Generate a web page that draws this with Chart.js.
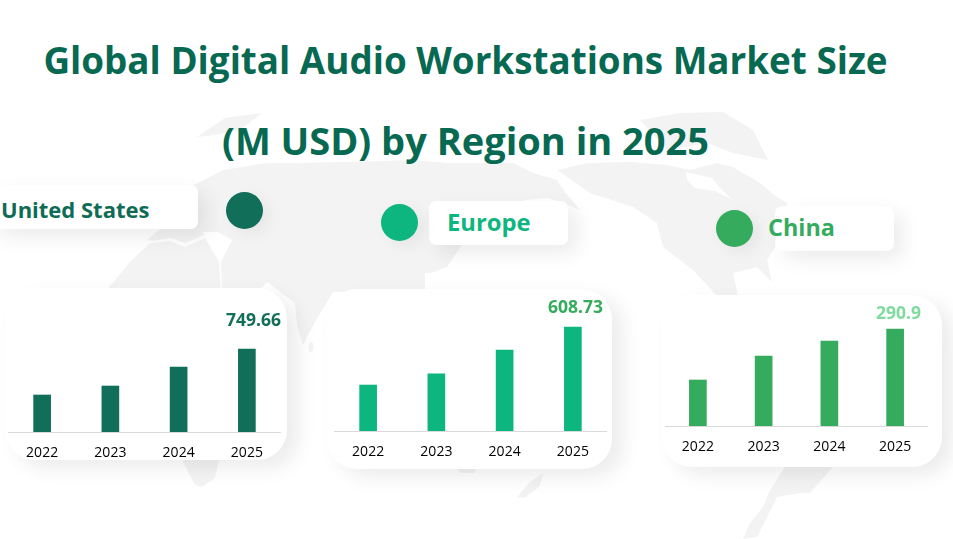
<!DOCTYPE html>
<html>
<head>
<meta charset="utf-8">
<title>Global Digital Audio Workstations Market Size</title>
<script src="https://cdn.jsdelivr.net/npm/chart.js@4/dist/chart.umd.min.js"></script>
<style>
  html, body { margin: 0; padding: 0; background: #fff; }
  body { width: 953px; height: 539px; position: relative; overflow: hidden; font-family: "Open Sans", sans-serif; }
  #map { position: absolute; left: 0; top: 0; }
  .title { position: absolute; left: 0; width: 931px; text-align: center; font-weight: 700; color: #076951; white-space: nowrap; line-height: 44px; }
  .tag { position: absolute; background: #fff; border-radius: 7px; box-shadow: 9px 8px 20px rgba(0, 0, 0, 0.08); }
  .tag-text { position: absolute; font-weight: 700; line-height: 30px; white-space: nowrap; }
  .dot { position: absolute; width: 37px; height: 37px; border-radius: 50%; box-shadow: 6px 5px 16px rgba(0, 0, 0, 0.06); }
  .panel { position: absolute; background: #fff; border-radius: 30px; box-shadow: 11px 8px 20px rgba(0, 0, 0, 0.08); }
  .patch { position: absolute; background: #fff; }
  .value { position: absolute; font-weight: 700; font-size: 17.5px; line-height: 22px; white-space: nowrap; text-align: right; }
  canvas { position: absolute; }
</style>
</head>
<body>
<!-- faint world map behind everything, mirrored like the source slide -->
<svg id="map" width="953" height="539" fill="#f3f3f3">
  <polygon points="223,170 267,163 297,163 347,162 413,160 447,163 513,163 533,173 557,180 565,192 580,210 568,205 548,198 525,200 500,210 470,225 463,243 447,267 425,275 425,292 333,292 315,322 303,345 297,325 295,303 267,282 253,296 222,290 221,262 232,240 218,232 197,232 190,187"/>
  <polygon points="147,240 165,225 195,222 205,235 185,243 170,238 153,241"/>
  <polygon points="107,290 130,262 150,243 170,241 185,247 205,238 219,262 221,292"/>
  <polygon points="182,460 195,485 202,487 215,478 219,460"/>
  <polygon points="557,170 587,163 633,162 667,165 690,170 717,163 733,167 760,183 777,197 787,203 780,240 767,260 772,282 757,267 733,273 738,296 717,296 693,270 663,247 657,223 633,207 590,193"/>
  <polygon points="640,120 680,113 723,112 753,130 768,160 733,153 707,143 667,150"/>
  <polygon points="197,137 225,118 262,113 240,130 215,135"/>
  <polygon points="785,467 770,490 763,507 750,523 743,539 757,537 777,497 800,493 810,493 833,467"/>
  <polygon points="517,497 530,482 543,473 540,486 525,498"/>
  <polygon points="457,468 477,468 474,473 460,473"/>
  <ellipse cx="311" cy="347" rx="2.5" ry="5"/>
  <polygon fill="#fff" points="686,172 712,178 722,190 733,200 715,191 695,188 687,180"/>
</svg>

<div class="title" style="top:38px;font-size:36.8px">Global Digital Audio Workstations Market Size</div>
<div class="title" style="top:118px;font-size:38px">(M USD) by Region in 2025</div>

<!-- region tags -->
<div class="tag" style="left:-10px;top:185px;width:208px;height:44px"></div>
<div class="tag-text" style="left:1px;top:194px;font-size:22px;color:#0e6c56">United States</div>
<div class="dot" style="left:226px;top:192px;background:#116f59"></div>

<div class="tag" style="left:429px;top:201px;width:139px;height:44px"></div>
<div class="tag-text" style="left:447px;top:207px;font-size:23.8px;color:#0db57f">Europe</div>
<div class="dot" style="left:381px;top:204px;background:#0db57f"></div>

<div class="tag" style="left:775px;top:206px;width:119px;height:45px"></div>
<div class="dot" style="left:716px;top:210px;background:#35ab5d"></div>
<div class="tag-text" style="left:768px;top:212px;font-size:23.4px;color:#35ab5d">China</div>

<!-- chart cards -->
<div class="patch" style="left:425px;top:273px;width:94px;height:20px"></div>
<div class="panel" style="left:5px;top:288px;width:282px;height:172px"></div>
<div class="panel" style="left:327px;top:289px;width:285px;height:180px"></div>
<div class="panel" style="left:662px;top:295px;width:280px;height:172px"></div>

<canvas id="usChart" style="left:8px;top:288px;width:273px;height:172px"></canvas>
<canvas id="europeChart" style="left:334px;top:289px;width:273px;height:172px"></canvas>
<canvas id="chinaChart" style="left:665px;top:295px;width:263px;height:172px"></canvas>

<div class="value" style="right:672px;top:308px;color:#116f59">749.66</div>
<div class="value" style="right:350px;top:295px;color:#35ab5d">608.73</div>
<div class="value" style="right:32px;top:301px;color:#7fdb9f">290.9</div>

<script>
// Data
const years = ["2022", "2023", "2024", "2025"];
const usValues = [334, 415, 587, 749.66];
const europeValues = [269, 334, 474, 608.73];
const chinaValues = [138, 210, 255, 290.9];

// Top of each value axis, so the bars reach the same height as the source
const usMax = 1300;
const europeMax = 831;
const chinaMax = 393;

// Draws one small bar chart on a card
function drawBars(canvasId, values, color, yMax, barWidth, axisHeight) {
  const canvas = document.getElementById(canvasId);
  return new Chart(canvas, {
    type: "bar",
    data: {
      labels: years,
      datasets: [
        {
          data: values,
          backgroundColor: color,
          borderWidth: 0,
          barThickness: barWidth,
        },
      ],
    },
    options: {
      responsive: false,
      maintainAspectRatio: false,
      animation: false,
      layout: { padding: 0 },
      plugins: {
        legend: { display: false },
        tooltip: { enabled: false },
      },
      scales: {
        x: {
          grid: { display: false },
          border: { color: "#d9d9d9", width: 1 },
          ticks: {
            color: "#000000",
            padding: 5,
            maxRotation: 0,
            font: { family: "'Open Sans'", size: 14 },
          },
          afterFit: function (scale) {
            scale.height = axisHeight;
          },
        },
        y: {
          display: false,
          min: 0,
          max: yMax,
        },
      },
    },
  });
}

Chart.defaults.devicePixelRatio = 1;
for (const id of ["usChart", "europeChart", "chinaChart"]) {
  const c = document.getElementById(id);
  c.width = parseInt(c.style.width);
  c.height = parseInt(c.style.height);
}

drawBars("usChart", usValues, "#116f59", usMax, 17, 28);
drawBars("europeChart", europeValues, "#0db57f", europeMax, 17, 30);
drawBars("chinaChart", chinaValues, "#35ab5d", chinaMax, 17, 41);
</script>
</body>
</html>
